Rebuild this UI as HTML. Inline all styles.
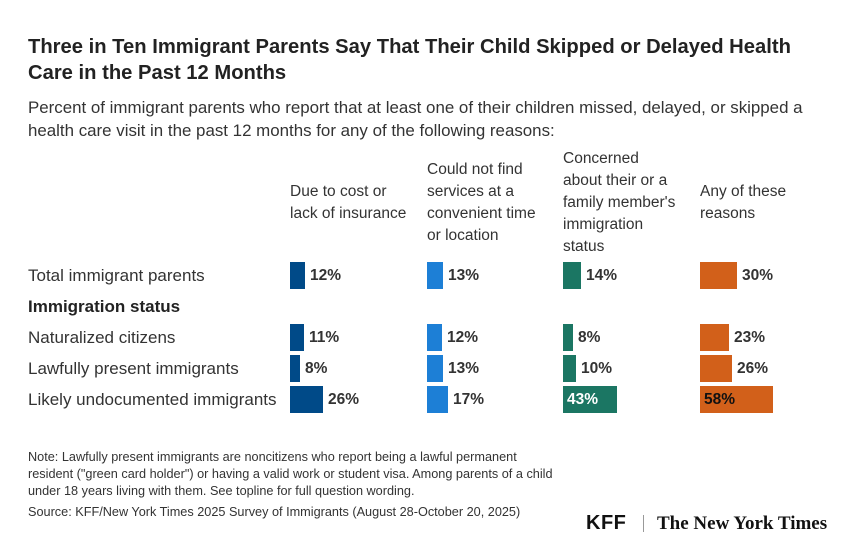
<!DOCTYPE html>
<html><head><meta charset="utf-8"><style>
body{margin:0;width:854px;height:550px;background:#fff;font-family:"Liberation Sans",sans-serif;color:#333;position:relative;overflow:hidden}
.a{position:absolute;white-space:nowrap}
.t{left:28px;top:34px;font-size:20px;font-weight:bold;line-height:26px;color:#222;transform-origin:0 0;transform:scaleX(1.01)}
.s{left:28px;top:96px;font-size:16.9px;line-height:23px;color:#333}
.h{font-size:15.5px;line-height:22px;color:#333}
.l{left:28px;font-size:17px;color:#333;line-height:27px}
.b{position:absolute;height:27px}
.v{position:absolute;font-size:15.5px;line-height:27px;font-weight:bold;color:#333}
.n{left:28px;top:449px;font-size:12.7px;line-height:17px;color:#333}
</style></head><body>
<div class="a t">Three in Ten Immigrant Parents Say That Their Child Skipped or Delayed Health<br>Care in the Past 12 Months</div>
<div class="a s">Percent of immigrant parents who report that at least one of their children missed, delayed, or skipped a<br>health care visit in the past 12 months for any of the following reasons:</div>
<div class="a h" style="left:290px;top:181px">Due to cost or<br>lack of insurance</div>
<div class="a h" style="left:427px;top:159px">Could not find<br>services at a<br>convenient time<br>or location</div>
<div class="a h" style="left:563px;top:148px">Concerned<br>about their or a<br>family member's<br>immigration<br>status</div>
<div class="a h" style="left:700px;top:181px">Any of these<br>reasons</div>
<div class="a l" style="top:262px">Total immigrant parents</div>
<div class="a l" style="top:293px;font-weight:bold;color:#222">Immigration status</div>
<div class="a l" style="top:324px">Naturalized citizens</div>
<div class="a l" style="top:355px">Lawfully present immigrants</div>
<div class="a l" style="top:386px">Likely undocumented immigrants</div>

<div class="b" style="left:290px;top:262px;width:15px;background:#004a88"></div><div class="v" style="left:310px;top:262px">12%</div>
<div class="b" style="left:427px;top:262px;width:16px;background:#1d7fd6"></div><div class="v" style="left:448px;top:262px">13%</div>
<div class="b" style="left:563px;top:262px;width:18px;background:#1b7663"></div><div class="v" style="left:586px;top:262px">14%</div>
<div class="b" style="left:700px;top:262px;width:37px;background:#d2601a"></div><div class="v" style="left:742px;top:262px">30%</div>

<div class="b" style="left:290px;top:324px;width:14px;background:#004a88"></div><div class="v" style="left:309px;top:324px">11%</div>
<div class="b" style="left:427px;top:324px;width:15px;background:#1d7fd6"></div><div class="v" style="left:447px;top:324px">12%</div>
<div class="b" style="left:563px;top:324px;width:10px;background:#1b7663"></div><div class="v" style="left:578px;top:324px">8%</div>
<div class="b" style="left:700px;top:324px;width:29px;background:#d2601a"></div><div class="v" style="left:734px;top:324px">23%</div>

<div class="b" style="left:290px;top:355px;width:10px;background:#004a88"></div><div class="v" style="left:305px;top:355px">8%</div>
<div class="b" style="left:427px;top:355px;width:16px;background:#1d7fd6"></div><div class="v" style="left:448px;top:355px">13%</div>
<div class="b" style="left:563px;top:355px;width:13px;background:#1b7663"></div><div class="v" style="left:581px;top:355px">10%</div>
<div class="b" style="left:700px;top:355px;width:32px;background:#d2601a"></div><div class="v" style="left:737px;top:355px">26%</div>

<div class="b" style="left:290px;top:386px;width:33px;background:#004a88"></div><div class="v" style="left:328px;top:386px">26%</div>
<div class="b" style="left:427px;top:386px;width:21px;background:#1d7fd6"></div><div class="v" style="left:453px;top:386px">17%</div>
<div class="b" style="left:563px;top:386px;width:54px;background:#1b7663"></div><div class="v" style="left:567px;top:386px;color:#fff">43%</div>
<div class="b" style="left:700px;top:386px;width:73px;background:#d2601a"></div><div class="v" style="left:704px;top:386px;color:#111">58%</div>

<div class="a n">Note: Lawfully present immigrants are noncitizens who report being a lawful permanent<br>resident ("green card holder") or having a valid work or student visa. Among parents of a child<br>under 18 years living with them. See topline for full question wording.</div>
<div class="a n" style="top:504px">Source: KFF/New York Times 2025 Survey of Immigrants (August 28-October 20, 2025)</div>
<div class="a" style="left:586px;top:512px;font-size:20px;font-weight:bold;color:#111;letter-spacing:0.5px">KFF</div>
<div class="a" style="left:643px;top:515px;width:1px;height:17px;background:#999"></div>
<div class="a" style="left:657px;top:513px;font-family:'Liberation Serif',serif;font-size:19px;font-weight:bold;color:#111">The New York Times</div>
</body></html>
